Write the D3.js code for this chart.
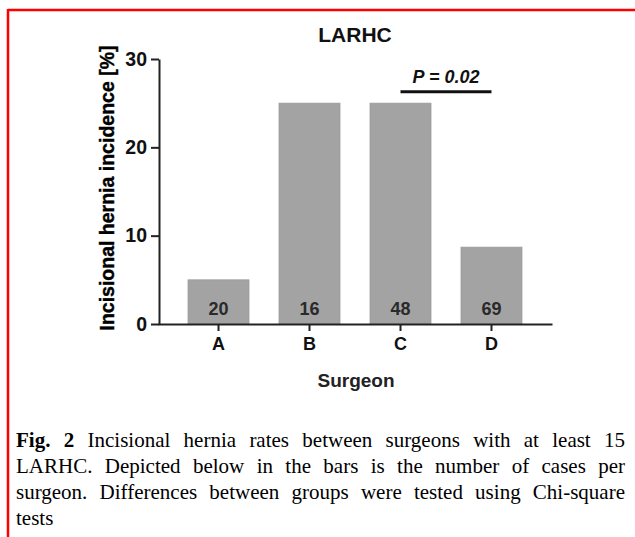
<!DOCTYPE html>
<html>
<head>
<meta charset="utf-8">
<script src="https://cdn.jsdelivr.net/npm/d3@7"></script>
<style>
  html, body { margin: 0; padding: 0; background: #fff; }
  #wrap { position: relative; width: 635px; height: 537px; overflow: hidden; }
  svg { position: absolute; left: 0; top: 0; }
  #caption { position: absolute; left: 16px; top: 427px; width: 609px;
    font-family: "Liberation Serif", "Times New Roman", serif; font-size: 21px; line-height: 26px; color: #000; }
  #caption div { white-space: nowrap; text-align: justify; text-align-last: justify; }
  #caption div.last { text-align-last: left; }
</style>
</head>
<body>
<div id="wrap">
  <svg id="chart" width="635" height="537"></svg>
  <div id="caption"></div>
</div>
<script>
// ---- data ----
const categories = ["A", "B", "C", "D"];
const incidence = [5.0, 25.0, 25.0, 8.7];          // Incisional hernia incidence [%]
const caseCounts = ["20", "16", "48", "69"];        // number of cases per surgeon
const yTicks = [0, 10, 20, 30];
const comparison = ["C", "D"];
const comparisonP = "P = 0.02";
const comparisonLevel = 26.3;
const chartTitle = "LARHC";
const xTitle = "Surgeon";
const yTitle = "Incisional hernia incidence [%]";
const captionBold = "Fig. 2";
const captionLines = [
  " Incisional hernia rates between surgeons with at least 15",
  "LARHC. Depicted below in the bars is the number of cases per",
  "surgeon. Differences between groups were tested using Chi-square",
  "tests"
];

// ---- chart ----
const svg = d3.select("#chart");
const sans = "'Liberation Sans', Arial, sans-serif";

// red frame
svg.append("line").attr("x1", 8).attr("x2", 635).attr("y1", 10).attr("y2", 10)
  .attr("stroke", "#ff0000").attr("stroke-width", 2.5);
svg.append("line").attr("x1", 8).attr("x2", 8).attr("y1", 9).attr("y2", 537)
  .attr("stroke", "#ff0000").attr("stroke-width", 2.5);

const y = d3.scaleLinear().domain([0, 30]).range([324, 59]);
const x = d3.scaleBand().domain(categories).range([158, 552])
  .paddingInner(0.33).paddingOuter(0.33);

// bars
svg.append("g").selectAll("rect").data(categories).join("rect")
  .attr("x", d => x(d))
  .attr("width", x.bandwidth())
  .attr("y", (d, i) => y(incidence[i]))
  .attr("height", (d, i) => y(0) - y(incidence[i]))
  .attr("fill", "#a3a3a3")
  .attr("stroke", "#9a9a9a").attr("stroke-width", 0.8);

// counts inside bars
svg.append("g").selectAll("text").data(categories).join("text")
  .attr("x", d => x(d) + x.bandwidth() / 2)
  .attr("y", 315)
  .attr("text-anchor", "middle")
  .attr("font-family", sans).attr("font-weight", "bold").attr("font-size", 18)
  .attr("fill", "#2a2a2a")
  .text((d, i) => caseCounts[i]);

// y axis
const gy = svg.append("g").attr("transform", "translate(159,0)")
  .call(d3.axisLeft(y).tickValues(yTicks).tickSize(8).tickSizeOuter(0).tickPadding(4));
gy.select(".domain").attr("stroke", "#222").attr("stroke-width", 2);
gy.selectAll(".tick line").attr("stroke", "#222").attr("stroke-width", 2);
gy.selectAll(".tick text").attr("font-family", sans).attr("font-weight", "bold")
  .attr("font-size", 19.5).attr("fill", "#111");

// x axis
const gx = svg.append("g").attr("transform", "translate(0,324)")
  .call(d3.axisBottom(x).tickSize(7).tickSizeOuter(0).tickPadding(6));
gx.select(".domain").attr("stroke", "#222").attr("stroke-width", 2);
gx.selectAll(".tick line").attr("stroke", "#222").attr("stroke-width", 2);
gx.selectAll(".tick text").attr("font-family", sans).attr("font-weight", "bold")
  .attr("font-size", 18).attr("fill", "#111");

// title
svg.append("text").attr("x", 355).attr("y", 42).attr("text-anchor", "middle")
  .attr("font-family", sans).attr("font-weight", "bold").attr("font-size", 21)
  .attr("fill", "#111").text(chartTitle);

// x title
svg.append("text").attr("x", 356).attr("y", 387).attr("text-anchor", "middle")
  .attr("font-family", sans).attr("font-weight", "bold").attr("font-size", 19)
  .attr("fill", "#222").text(xTitle);

// y title
svg.append("text").attr("transform", "translate(114,188) rotate(-90)")
  .attr("text-anchor", "middle")
  .attr("font-family", sans).attr("font-weight", "bold").attr("font-size", 19.5)
  .attr("fill", "#000").attr("stroke", "#000").attr("stroke-width", 0.4)
  .text(yTitle);

// significance bar
const cx0 = x(comparison[0]) + x.bandwidth() / 2;
const cx1 = x(comparison[1]) + x.bandwidth() / 2;
svg.append("line").attr("x1", cx0).attr("x2", cx1)
  .attr("y1", y(comparisonLevel)).attr("y2", y(comparisonLevel))
  .attr("stroke", "#111").attr("stroke-width", 3);
svg.append("text").attr("x", (cx0 + cx1) / 2).attr("y", y(comparisonLevel) - 9)
  .attr("text-anchor", "middle")
  .attr("font-family", sans).attr("font-weight", "bold").attr("font-style", "italic")
  .attr("font-size", 18).attr("fill", "#111").text(comparisonP);

// caption
const cap = d3.select("#caption");
captionLines.forEach((line, i) => {
  const div = cap.append("div").attr("class", i === captionLines.length - 1 ? "last" : null);
  if (i === 0) {
    div.append("b").text(captionBold);
  }
  div.append("span").text(line);
});
</script>
</body>
</html>
